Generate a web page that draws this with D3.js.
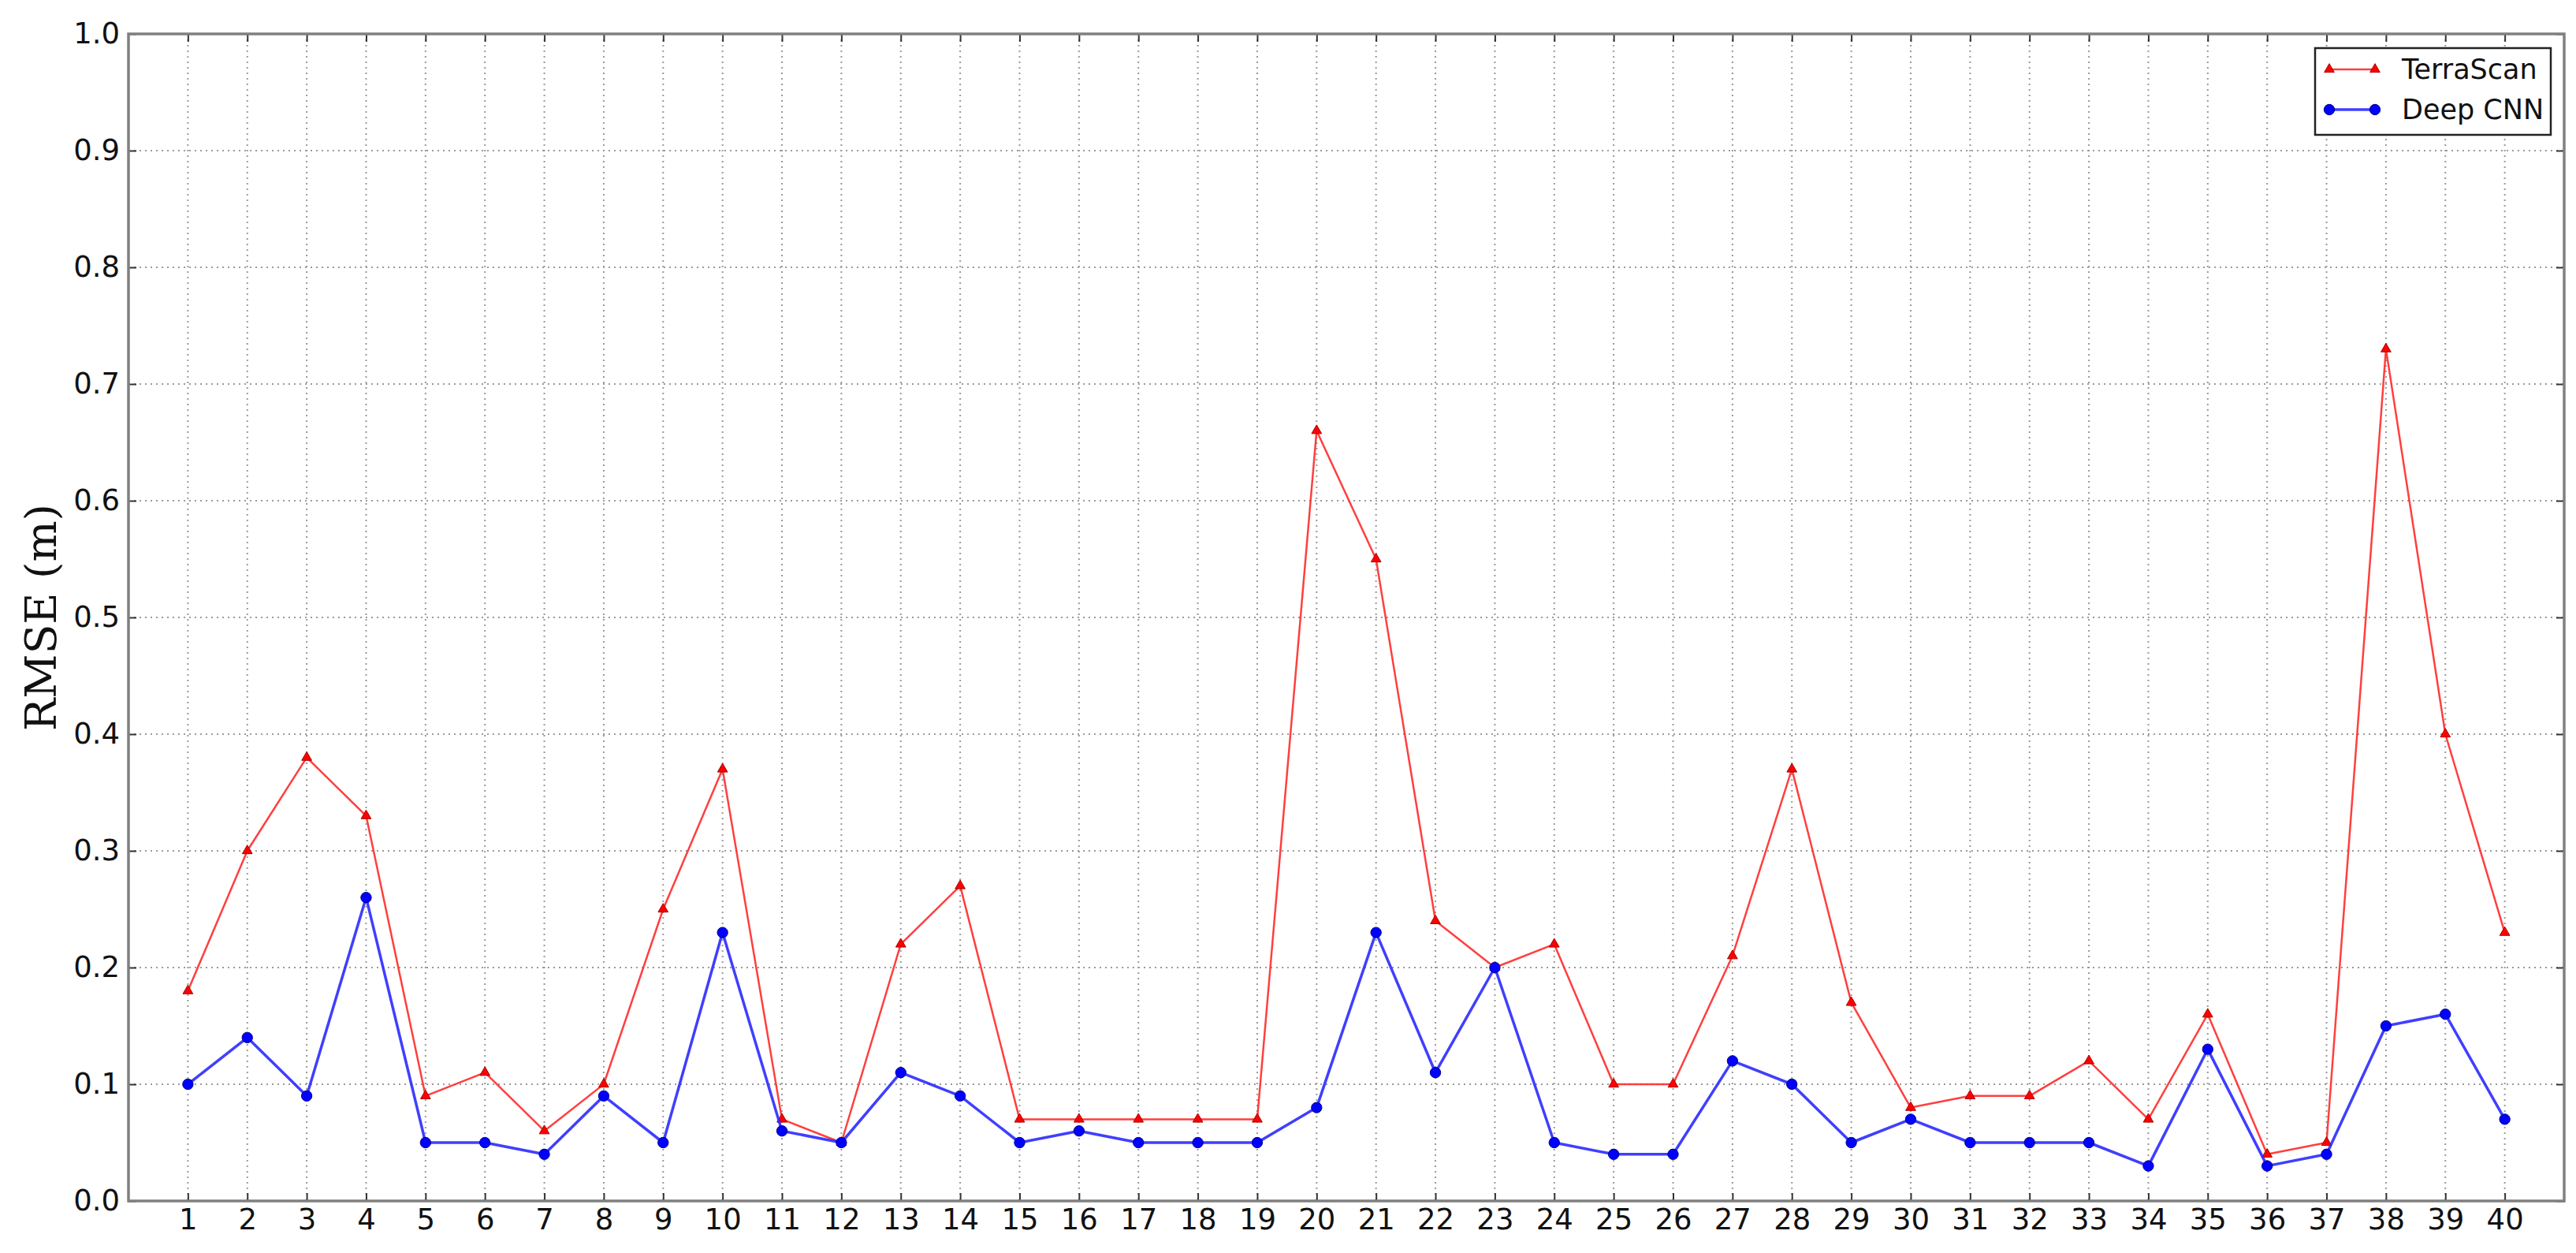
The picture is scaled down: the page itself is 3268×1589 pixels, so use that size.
<!DOCTYPE html>
<html>
<head>
<meta charset="utf-8">
<script src="https://cdn.jsdelivr.net/npm/d3@7"></script>
<style>
  html, body { margin: 0; padding: 0; background: #fff; }
  svg { display: block; }
</style>
</head>
<body>
<svg id="chart" width="3268" height="1589"></svg>
<script>
// ---- data ----
const categories = d3.range(1, 41);
const terraScan = [0.18, 0.30, 0.38, 0.33, 0.09, 0.11, 0.06, 0.10, 0.25, 0.37,
                   0.07, 0.05, 0.22, 0.27, 0.07, 0.07, 0.07, 0.07, 0.07, 0.66,
                   0.55, 0.24, 0.20, 0.22, 0.10, 0.10, 0.21, 0.37, 0.17, 0.08,
                   0.09, 0.09, 0.12, 0.07, 0.16, 0.04, 0.05, 0.73, 0.40, 0.23];
const deepCNN   = [0.10, 0.14, 0.09, 0.26, 0.05, 0.05, 0.04, 0.09, 0.05, 0.23,
                   0.06, 0.05, 0.11, 0.09, 0.05, 0.06, 0.05, 0.05, 0.05, 0.08,
                   0.23, 0.11, 0.20, 0.05, 0.04, 0.04, 0.12, 0.10, 0.05, 0.07,
                   0.05, 0.05, 0.05, 0.03, 0.13, 0.03, 0.04, 0.15, 0.16, 0.07];
const yTicks = [0.0, 0.1, 0.2, 0.3, 0.4, 0.5, 0.6, 0.7, 0.8, 0.9, 1.0];
const seriesNames = ["TerraScan", "Deep CNN"];
const yLabel = "RMSE (m)";

// ---- layout ----
const L = 163, R = 3253, T = 43, B = 1523;
const svg = d3.select("#chart");
const x = d3.scaleLinear().domain([0, 41]).range([L, R]);
const y = d3.scaleLinear().domain([0, 1]).range([B, T]);

const gridColor = "#9a9a9a";
const tickFont = "'DejaVu Sans', sans-serif";

// grid
const grid = svg.append("g");
grid.selectAll(".gx").data(categories).enter().append("line")
  .attr("x1", d => x(d)).attr("x2", d => x(d))
  .attr("y1", T).attr("y2", B)
  .attr("stroke", gridColor).attr("stroke-width", 2).attr("stroke-dasharray", "2,5");
grid.selectAll(".gy").data(yTicks.slice(1, -1)).enter().append("line")
  .attr("x1", L).attr("x2", R)
  .attr("y1", d => y(d)).attr("y2", d => y(d))
  .attr("stroke", gridColor).attr("stroke-width", 2).attr("stroke-dasharray", "2,5");

// axes with inward ticks
const tickLen = 10;
const xAxisB = d3.axisBottom(x).tickValues(categories).tickSize(-tickLen).tickPadding(10).tickFormat(d3.format("d"));
const xAxisT = d3.axisTop(x).tickValues(categories).tickSize(-tickLen).tickFormat("");
const yAxisL = d3.axisLeft(y).tickValues(yTicks).tickSize(-tickLen).tickPadding(11).tickFormat(d3.format(".1f"));
const yAxisR = d3.axisRight(y).tickValues(yTicks).tickSize(-tickLen).tickFormat("");

function styleAxis(g) {
  g.select(".domain").remove();
  g.selectAll(".tick line").attr("stroke", "#333").attr("stroke-width", 2);
  g.selectAll(".tick text").attr("font-family", tickFont).attr("font-size", 37).attr("fill", "#111");
}
svg.append("g").attr("transform", `translate(0,${B})`).call(xAxisB).call(styleAxis);
svg.append("g").attr("transform", `translate(0,${T})`).call(xAxisT).call(styleAxis);
svg.append("g").attr("transform", `translate(${L},0)`).call(yAxisL).call(styleAxis);
svg.append("g").attr("transform", `translate(${R},0)`).call(yAxisR).call(styleAxis);

// frame
svg.append("rect").attr("x", L).attr("y", T).attr("width", R - L).attr("height", B - T)
  .attr("fill", "none").attr("stroke", "#808080").attr("stroke-width", 3.5);

// y label
svg.append("text")
  .attr("transform", `translate(52,${(T + B) / 2}) rotate(-90)`)
  .attr("text-anchor", "middle").attr("dominant-baseline", "central")
  .attr("font-family", "'DejaVu Serif', serif").attr("font-size", 55).attr("fill", "#111")
  .text(yLabel);

// series
const series = [
  { name: seriesNames[0], values: terraScan, color: "#ff0000", lineColor: "#ff2a2a", width: 2.5, symbol: d3.symbolTriangle, size: 70 },
  { name: seriesNames[1], values: deepCNN, color: "#0000ff", lineColor: "#2a2aff", width: 3.5, symbol: d3.symbolCircle, size: 140 }
];
const line = d3.line().x((d, i) => x(categories[i])).y(d => y(d));
series.forEach(s => {
  svg.append("path").datum(s.values).attr("d", line)
    .attr("fill", "none").attr("stroke", s.lineColor).attr("stroke-width", s.width)
    .attr("stroke-linejoin", "round").attr("opacity", 0.9);
  svg.append("g").selectAll("path").data(s.values).enter().append("path")
    .attr("d", d3.symbol().type(s.symbol).size(s.size))
    .attr("transform", (d, i) => `translate(${x(categories[i])},${y(d)})`)
    .attr("fill", s.color).attr("stroke", s.name === "Deep CNN" ? "#00008a" : "#aa0000").attr("stroke-width", 1);
});

// legend
const lg = svg.append("g");
lg.append("rect").attr("x", 2937).attr("y", 61).attr("width", 299).attr("height", 110)
  .attr("fill", "#fff").attr("stroke", "#222").attr("stroke-width", 2.5);
series.forEach((s, i) => {
  const cy = 88 + i * 51;
  lg.append("line").attr("x1", 2955).attr("x2", 3013).attr("y1", cy).attr("y2", cy)
    .attr("stroke", s.lineColor).attr("stroke-width", s.width).attr("opacity", 0.9);
  [2955, 3013].forEach(px => {
    lg.append("path").attr("d", d3.symbol().type(s.symbol).size(s.size))
      .attr("transform", `translate(${px},${cy})`)
      .attr("fill", s.color).attr("stroke", s.name === "Deep CNN" ? "#00008a" : "#aa0000").attr("stroke-width", 1);
  });
  lg.append("text").attr("x", 3047).attr("y", cy).attr("dominant-baseline", "central")
    .attr("font-family", tickFont).attr("font-size", 35).attr("fill", "#111").text(s.name);
});
</script>
</body>
</html>
